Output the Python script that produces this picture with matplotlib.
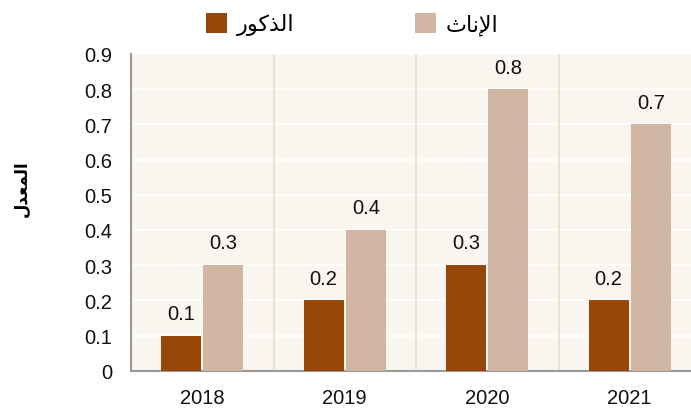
import matplotlib
matplotlib.use("Agg")
import matplotlib.pyplot as plt
import numpy as np

plt.rcParams['font.family'] = ['Liberation Sans', 'DejaVu Sans']

# data
years = ["2018", "2019", "2020", "2021"]
male = [0.1, 0.2, 0.3, 0.2]
female = [0.3, 0.4, 0.8, 0.7]
yticks = [0, 0.1, 0.2, 0.3, 0.4, 0.5, 0.6, 0.7, 0.8, 0.9]

# arabic labels, written as presentation forms in visual order
# (matplotlib has no shaping / bidi)
male_label = "\uFEAD\uFEEE\uFEDB\uFEAC\uFEDF\uFE8D"     # الذكور
female_label = "\uFE99\uFE8E\uFEE7\uFEF9\uFE8D"         # الإناث
ylabel = "\uFEDD\uFEAA\uFECC\uFEE4\uFEDF\uFE8D"         # المعدل

male_color = "#974808"
female_color = "#d2b6a4"
bg = "#f9f6f0"

W, H = 691, 410
fig = plt.figure(figsize=(W / 100, H / 100), dpi=100)
# axes runs past the right edge of the picture, like the original
ax = fig.add_axes([131 / W, 38.3 / H, 570 / W, 316.7 / H])
ax.set_facecolor(bg)

x = np.arange(len(years))
bw = 0.281
off = 0.148
b1 = ax.bar(x - off, male, bw, color=male_color, label=male_label, zorder=3)
b2 = ax.bar(x + off, female, bw, color=female_color, label=female_label, zorder=3)

for bars, vals in ((b1, male), (b2, female)):
    for r, v in zip(bars, vals):
        ax.annotate(f"{v:g}", (r.get_x() + r.get_width() / 2, v),
                    xytext=(0, 12), textcoords="offset points",
                    ha="center", va="baseline", fontsize=14.5, color="#111111")

ax.set_xlim(-0.5, len(years) - 0.5)
ax.set_ylim(0, 0.9)
ax.set_yticks(yticks)
ax.set_yticklabels([f"{t:g}" for t in yticks])
ax.set_xticks(x)
ax.set_xticklabels(years)
ax.tick_params(axis="both", length=0, labelsize=14.5, colors="#111111")
ax.tick_params(axis="y", pad=13.5)
ax.tick_params(axis="x", pad=12.5)

ax.yaxis.grid(True, color="white", linewidth=1.2, zorder=0)
ax.set_axisbelow(True)
for xs in x[:-1] + 0.5:
    ax.axvline(xs, color="#efdcc8", linewidth=1.2, zorder=1)

for s in ("top", "right"):
    ax.spines[s].set_visible(False)
for s in ("left", "bottom"):
    ax.spines[s].set_color("#9a9a9a")
    ax.spines[s].set_linewidth(1.5)

fig.text(22 / W, 1 - 189 / H, ylabel, rotation=90, ha="center", va="center",
         fontsize=12, fontweight="bold")

# two one-entry legends so each square sits where the original has it
for h, left in ((b1, 206), (b2, 415)):
    leg = fig.legend(handles=[h], loc="center left",
                     bbox_to_anchor=(left / W, 1 - 25 / H),
                     frameon=False, fontsize=16, handlelength=0.95,
                     handleheight=1.0, handletextpad=0.45,
                     borderpad=0, borderaxespad=0)

fig.savefig("out.png", dpi=100)
